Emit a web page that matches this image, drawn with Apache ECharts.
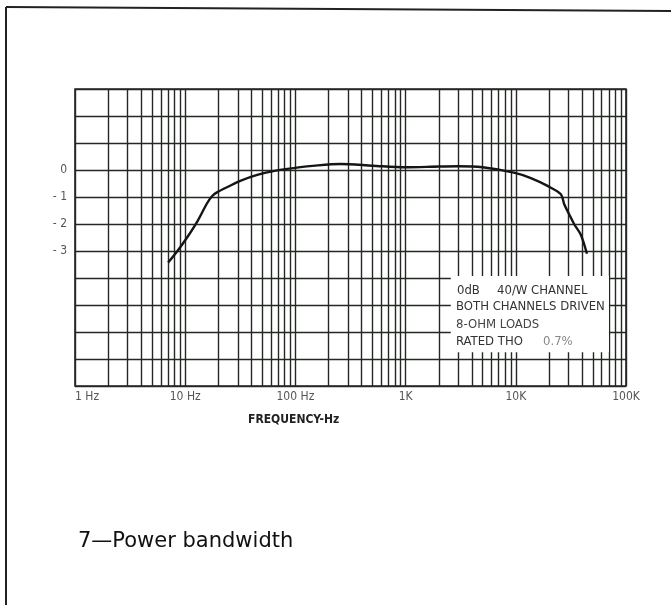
<!DOCTYPE html>
<html>
<head>
<meta charset="utf-8">
<script src="https://cdn.jsdelivr.net/npm/echarts@6/dist/echarts.min.js"></script>
<style>
html,body{margin:0;padding:0;background:#fff;}
#c{width:671px;height:609px;}
</style>
</head>
<body>
<div id="c"></div>
<script>
// ---- data ----
const freqHz = [7.0, 8.5, 10.4, 12.9, 15.7, 17.5, 19.4, 25, 31.6, 45, 63, 96, 160, 257, 500, 1000, 2000, 3000, 5000, 9600, 13700, 19400, 25650, 27500, 30500, 33900, 38900, 44200];
const levelDb = [-3.43, -3.0, -2.5, -1.9, -1.25, -0.97, -0.83, -0.6, -0.4, -0.18, -0.04, 0.07, 0.17, 0.22, 0.16, 0.1, 0.13, 0.14, 0.1, -0.1, -0.3, -0.59, -0.9, -1.27, -1.64, -2.01, -2.4, -3.1];
const xTickLabels = {1: '1 Hz', 10: '10 Hz', 100: '100 Hz', 1000: '1K', 10000: '10K', 100000: '100K'};
const yTickLabels = {'0': '0', '-1': '- 1', '-2': '- 2', '-3': '- 3'};
const decades = [1, 10, 100, 1000, 10000];
const minorSteps = [2, 3, 4, 5, 6, 7, 8, 9];
const noteBoxX = [2570, 70000];
const noteBoxY = [-3.93, -6.75];
const noteLines = ['0dB', '40/W CHANNEL', 'BOTH CHANNELS DRIVEN', '8-OHM LOADS', 'RATED THO', '0.7%'];
const axisTitle = 'FREQUENCY-Hz';
const caption = '7\u2014Power bandwidth';

// ---- build ----
const minorFreqs = [];
decades.forEach(d => minorSteps.forEach(k => minorFreqs.push(k * d)));
const curve = freqHz.map((f, i) => [f, levelDb[i]]);

const INK = '#232823';
const NARROW = "'Liberation Sans Narrow','DejaVu Sans Condensed','Roboto Condensed',sans-serif";

const chart = echarts.init(document.getElementById('c'), null, {renderer: 'canvas'});
chart.setOption({
  animation: false,
  backgroundColor: '#fff',
  grid: {left: 75, top: 89, width: 551, height: 297, show: true, borderColor: INK, borderWidth: 1.6, backgroundColor: 'transparent'},
  xAxis: {
    type: 'log', logBase: 10, min: 1, max: 100000,
    axisLine: {show: false},
    axisTick: {show: false},
    splitLine: {show: true, lineStyle: {color: INK, width: 1.4}},
    axisLabel: {
      margin: 5, color: '#555', fontFamily: NARROW, fontSize: 12,
      alignMinLabel: 'left',
      formatter: v => xTickLabels[Math.round(v)] || ''
    }
  },
  yAxis: {
    type: 'value', min: -8, max: 3, interval: 1,
    axisLine: {show: false},
    axisTick: {show: false},
    splitLine: {show: true, lineStyle: {color: INK, width: 1.4}},
    axisLabel: {
      margin: 8, color: '#555', fontFamily: NARROW, fontSize: 12,
      formatter: v => yTickLabels[String(Math.round(v))] || ''
    }
  },
  series: [
    {
      type: 'line', data: [], z: 1, silent: true,
      markLine: {
        silent: true, symbol: 'none', label: {show: false}, z: 1,
        lineStyle: {color: INK, width: 1.4, type: 'solid'},
        data: minorFreqs.map(f => ({xAxis: f}))
      }
    },
    {
      type: 'line', data: [], z: 10, silent: true,
      markArea: {
        silent: true, z: 10,
        itemStyle: {color: '#fff', opacity: 1},
        data: [[{xAxis: noteBoxX[0], yAxis: noteBoxY[0]}, {xAxis: noteBoxX[1], yAxis: noteBoxY[1]}]]
      }
    },
    {
      type: 'line', data: curve, z: 20, smooth: 0.3, symbol: 'none',
      lineStyle: {color: '#151515', width: 2.4}
    }
  ],
  graphic: [
    {type: 'line', z: 50, shape: {x1: 6, y1: 7, x2: 671, y2: 11}, style: {stroke: '#222', lineWidth: 2}},
    {type: 'line', z: 50, shape: {x1: 6, y1: 7, x2: 6, y2: 605}, style: {stroke: '#222', lineWidth: 2}},
    {type: 'text', z: 50, left: 248, top: 414, style: {text: axisTitle, fill: '#222', font: "bold 12px " + NARROW}},
    {type: 'text', z: 50, left: 457, top: 284, style: {text: noteLines[0], fill: '#333', font: "13px " + NARROW}},
    {type: 'text', z: 50, left: 497, top: 284, style: {text: noteLines[1], fill: '#333', font: "13px " + NARROW}},
    {type: 'text', z: 50, left: 456, top: 300, style: {text: noteLines[2], fill: '#333', font: "13px " + NARROW}},
    {type: 'text', z: 50, left: 456, top: 318, style: {text: noteLines[3], fill: '#444', font: "13px " + NARROW}},
    {type: 'text', z: 50, left: 456, top: 335, style: {text: noteLines[4], fill: '#333', font: "13px " + NARROW}},
    {type: 'text', z: 50, left: 543, top: 335, style: {text: noteLines[5], fill: '#888', font: "13px " + NARROW}},
    {type: 'text', z: 50, left: 78, top: 531, style: {text: caption, fill: '#111', font: "21px 'DejaVu Sans',sans-serif"}}
  ]
});
</script>
</body>
</html>
